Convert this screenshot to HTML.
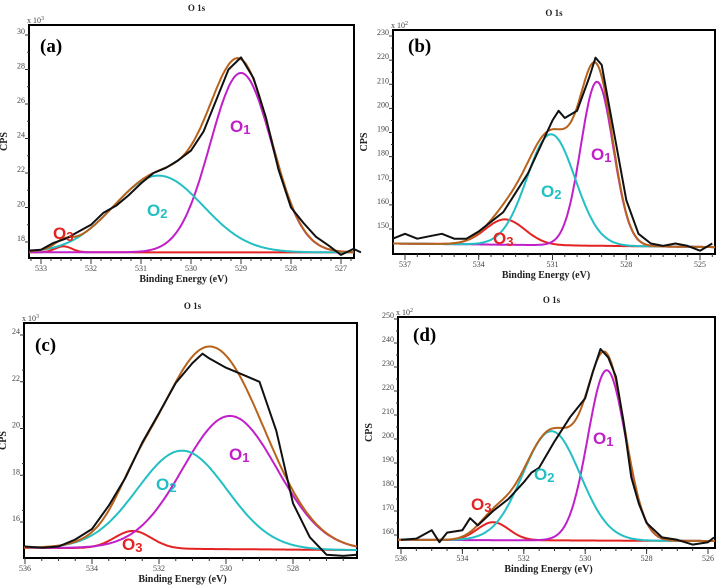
<!DOCTYPE html>
<html><head><meta charset="utf-8">
<style>
html,body{margin:0;padding:0;background:#fff;}
svg{display:block;font-family:"Liberation Serif",serif;}
.tk{font-size:8px;fill:#444;}
.ax{font-size:10px;font-weight:bold;fill:#222;}
.ttl{font-size:9px;font-weight:bold;fill:#222;}
.pl{font-size:19px;font-weight:bold;fill:#000;}
.ol{font-family:"Liberation Sans",sans-serif;font-weight:bold;font-size:17px;}
</style></head>
<body>
<svg id="fig" width="716" height="586" viewBox="0 0 716 586"></svg>
<script>
// ---------- data ----------
// Panel (a) x10^3 CPS
const aExpX=[533.25,533,532.75,532.5,532.25,532,531.75,531.5,531.25,531,530.75,530.5,530.25,530,529.75,529.5,529.25,529,528.75,528.5,528.25,528,527.75,527.5,527.25,527,526.75,526.6];
const aExpY=[17.5,17.55,17.95,18.2,18.6,19.0,19.7,20.1,20.7,21.4,22.0,22.3,22.75,23.3,24.4,26.2,28.0,28.7,27.5,25.2,22.2,20.0,19.1,18.3,17.8,17.25,17.6,17.4];
const aCenters=[529.0,530.65,532.55];
const aHeights=[10.4,4.45,0.35];
const aFwhm=[1.45,2.1,0.4];
const aBase=[17.4,17.4];
// Panel (b) x10^2 CPS
const bExpX=[537.5,537,536.5,536,535.5,535,534.5,534,533.5,533,532.5,532,531.5,531,530.75,530.5,530,529.5,529.25,529,528.5,528,527.5,527,526.5,526,525.5,525,524.5];
const bExpY=[146,148,146,147,148,146,146,149,153,157,165,173,184,195,199,196,199,213,221,218,190,162,148,144,143,144,143,141,144];
const bCenters=[529.19,531.06,532.93];
const bHeights=[68,46,10.5];
const bFwhm=[1.55,2.3,1.9];
const bBase=[144,142.5];
// Panel (c) x10^3 CPS
const cExpX=[536,535.5,535,534.5,534,533.5,533,532.5,532,531.5,531,530.7,530.5,530,529.5,529,528.5,528,527.5,527,526.5,526.1];
const cExpY=[14.95,14.9,14.95,15.25,15.7,16.7,17.9,19.4,20.66,21.95,22.8,23.2,23.0,22.6,22.3,22.0,19.9,16.8,15.35,14.6,14.55,14.6];
const cCenters=[529.88,531.31,532.78];
const cHeights=[5.7,4.2,0.75];
const cFwhm=[3.3,3.15,1.3];
const cBase=[14.9,14.8];
// Panel (d) x10^2 CPS
const dExpX=[536,535.5,535,534.75,534.5,534,533.75,533.5,533,532.5,532,531.75,531.5,531,530.5,530,529.75,529.5,529.25,529,528.75,528.5,528.25,528,527.5,527,526.5,526,525.8];
const dExpY=[158,158.5,162,157,161,162,167,164,170,175,182,186,188,199,209,217,228,237.5,234,226,207,184,173,165,159,158,156,157,159];
const dCenters=[529.3,531.1,533.0];
const dHeights=[71,45.5,7.5];
const dFwhm=[1.45,2.2,1.2];
const dBase=[158,157.5];
// tick labels
const aXTicks=[533,532,531,530,529,528,527];
const aYTicks=[18,20,22,24,26,28,30];
const bXTicks=[537,534,531,528,525];
const bYTicks=[150,160,170,180,190,200,210,220,230];
const cXTicks=[536,534,532,530,528];
const cYTicks=[16,18,20,22,24];
const dXTicks=[536,534,532,530,528,526];
const dYTicks=[160,170,180,190,200,210,220,230,240,250];

// ---------- rendering ----------
const NS="http://www.w3.org/2000/svg";
const svg=document.getElementById('fig');
function mk(tag,attrs,parent){const e=document.createElementNS(NS,tag);for(const k in attrs)e.setAttribute(k,attrs[k]);(parent||svg).appendChild(e);return e;}
const COL={o1:"#c020c8",o2:"#22bfc4",o3:"#e52222",env:"#b8621b",exp:"#111"};

function panel(p){
  const g=mk('g',{});
  
  
  const sx=v=>p.xr[0]+(p.xv[0]-v)*(p.xr[1]-p.xr[0])/(p.xv[0]-p.xv[1]);
  const sy=v=>p.yr[0]-(v-p.yv[0])*(p.yr[0]-p.yr[1])/(p.yv[1]-p.yv[0]);
  const eL=p.xv[0]+(p.xr[0]-p.L)*(p.xv[0]-p.xv[1])/(p.xr[1]-p.xr[0]);
  const eR=p.xv[0]-(p.R-p.xr[0])*(p.xv[0]-p.xv[1])/(p.xr[1]-p.xr[0]);
  const base=x=>p.base[0]+(p.base[1]-p.base[0])*(eL-x)/(eL-eR);
  const gau=(i,x)=>p.h[i]*Math.exp(-4*Math.LN2*(x-p.c[i])*(x-p.c[i])/(p.w[i]*p.w[i]));
  const fr=mk('rect',{x:p.L,y:p.T,width:p.R-p.L,height:p.B-p.T,fill:'#fff',stroke:'#000','stroke-width':2},g);
  
  
  const t=mk('text',{x:(p.L+p.R)/2+ (p.tdx||0),y:p.T-14,'text-anchor':'middle',class:'ttl'},g);t.textContent='O 1s';
  
  
  const m=mk('text',{x:p.L-2,y:p.T-2,class:'tk','text-anchor':'start'},g);
  m.innerHTML='x 10<tspan dy="-3" font-size="6">'+p.exp+'</tspan>';
  
  
  p.yt.forEach(v=>{const y=sy(v);
    mk('line',{x1:p.L-4,x2:p.L,y1:y,y2:y,stroke:'#333','stroke-width':1},g);
    const tx=mk('text',{x:p.L-4,y:y-1,'text-anchor':'end',class:'tk'},g);tx.textContent=v;
    
    
    const my=sy(v+p.ystep/2); if(my>p.T+2) mk('line',{x1:p.L-2,x2:p.L,y1:my,y2:my,stroke:'#333'},g);
  });
  const st=p.minor;
  for(let v=Math.ceil(eR/st)*st; v<=eL; v+=st){const x=sx(v);mk('line',{x1:x,x2:x,y1:p.B,y2:p.B+3,stroke:'#333','stroke-width':1},g);}
  p.xt.forEach(v=>{const x=sx(v);
    mk('line',{x1:x,x2:x,y1:p.B,y2:p.B+6,stroke:'#333','stroke-width':1},g);
    const tx=mk('text',{x:x,y:p.B+13,'text-anchor':'middle',class:'tk'},g);tx.textContent=v;
    
    
  });
  const xl=mk('text',{x:(p.L+p.R)/2-8,y:p.B+24,'text-anchor':'middle',class:'ax'},g);xl.textContent='Binding Energy (eV)';
  
  
  const yl=mk('text',{x:p.L-p.ylo,y:(p.T+p.B)/2,'text-anchor':'middle',class:'ax',transform:'rotate(-90 '+(p.L-p.ylo)+' '+(p.T+p.B)/2+')'},g);yl.textContent='CPS';
  
  
  const N=220;
  function curve(fn,color,w,name){let d='';for(let k=0;k<=N;k++){const x=eL-(eL-eR)*k/N;d+=(k?'L':'M')+sx(x).toFixed(1)+' '+sy(fn(x)).toFixed(1);}
    const pth=mk('path',{d:d,fill:'none',stroke:color,'stroke-width':w,'stroke-linejoin':'round'},g);
    
    }
  curve(x=>base(x)+gau(2,x),COL.o3,2,'o3-component-'+p.id);
  curve(x=>base(x)+gau(0,x),COL.o1,2,'o1-component-'+p.id);
  curve(x=>base(x)+gau(1,x),COL.o2,2,'o2-component-'+p.id);
  curve(x=>base(x)+gau(0,x)+gau(1,x)+gau(2,x),COL.env,2,'fit-envelope-'+p.id);
  let d='';p.ex.forEach((x,i)=>{d+=(i?'L':'M')+sx(x).toFixed(1)+' '+sy(p.ey[i]).toFixed(1);});
  const ep=mk('path',{d:d,fill:'none',stroke:COL.exp,'stroke-width':2,'stroke-linejoin':'round'},g);
  
  
  const pl=mk('text',{x:p.lab[0],y:p.lab[1],class:'pl'},g);pl.textContent='('+p.id+')';
  
  
  [['O','1',COL.o1,p.o1],['O','2',COL.o2,p.o2],['O','3',COL.o3,p.o3]].forEach((o,i)=>{
    const tx=mk('text',{x:o[3][0],y:o[3][1],class:'ol',fill:o[2]},g);
    tx.innerHTML='O<tspan font-size="13" dy="2">'+o[1]+'</tspan>';
    
    
  });
}

panel({id:'a',L:29,T:25,R:354,B:258,xv:[533,527],xr:[41,341],yv:[18,30],yr:[242,35],
  xt:aXTicks,yt:aYTicks,ystep:2,minor:0.2,exp:3,ylo:22,tdx:5,
  ex:aExpX,ey:aExpY,c:aCenters,h:aHeights,w:aFwhm,base:aBase,
  lab:[40,52],o1:[230,132],o2:[147,216],o3:[53,239]});
panel({id:'b',L:393,T:30,R:715,B:254,xv:[537,525],xr:[405,700],yv:[150,230],yr:[229,36],
  xt:bXTicks,yt:bYTicks,ystep:10,minor:0.5,exp:2,ylo:26,tdx:0,
  ex:bExpX,ey:bExpY,c:bCenters,h:bHeights,w:bFwhm,base:bBase,
  lab:[408,52],o1:[591,160],o2:[541,197],o3:[493,244]});
panel({id:'c',L:24,T:323,R:357,B:558,xv:[536,528],xr:[25,293],yv:[16,24],yr:[522,335],
  xt:cXTicks,yt:cYTicks,ystep:1,minor:0.5,exp:3,ylo:18,tdx:2,
  ex:cExpX,ey:cExpY,c:cCenters,h:cHeights,w:cFwhm,base:cBase,
  lab:[35,351],o1:[229,460],o2:[156,490],o3:[122,550]});
panel({id:'d',L:398,T:317,R:715,B:548,xv:[536,526],xr:[401,708],yv:[160,250],yr:[535,319],
  xt:dXTicks,yt:dYTicks,ystep:10,minor:0.5,exp:2,ylo:26,tdx:-5,
  ex:dExpX,ey:dExpY,c:dCenters,h:dHeights,w:dFwhm,base:dBase,
  lab:[413,341],o1:[593,444],o2:[534,480],o3:[471,510]});
</script>
</body></html>
